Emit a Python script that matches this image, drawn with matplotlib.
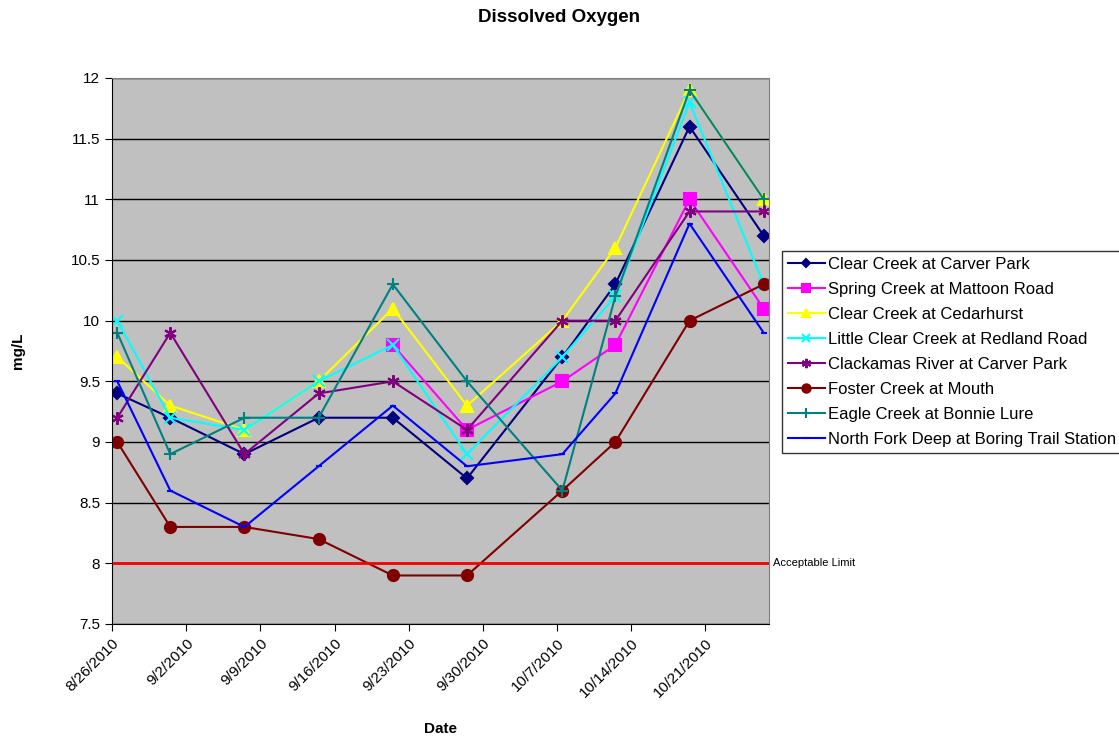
import numpy as np
import matplotlib
matplotlib.use("Agg")
import matplotlib.pyplot as plt
import matplotlib.dates as mdates
import datetime as dt

plt.rcParams['font.family'] = ['Liberation Sans', 'DejaVu Sans']

dates = ["2010-08-26", "2010-08-31", "2010-09-07", "2010-09-14", "2010-09-21",
         "2010-09-28", "2010-10-07", "2010-10-12", "2010-10-19", "2010-10-26"]

clear_carver = [9.4, 9.2, 8.9, 9.2, 9.2, 8.7, 9.7, 10.3, 11.6, 10.7]
spring_mattoon = [np.nan, np.nan, np.nan, np.nan, 9.8, 9.1, 9.5, 9.8, 11.0, 10.1]
clear_cedarhurst = [9.7, 9.3, 9.1, 9.5, 10.1, 9.3, 10.0, 10.6, 11.9, 11.0]
little_clear = [10.0, 9.2, 9.1, 9.5, 9.8, 8.9, 9.7, 10.2, 11.8, 10.3]
clackamas = [9.2, 9.9, 8.9, 9.4, 9.5, 9.1, 10.0, 10.0, 10.9, 10.9]
foster = [9.0, 8.3, 8.3, 8.2, 7.9, 7.9, 8.6, 9.0, 10.0, 10.3]
eagle = [9.9, 8.9, 9.2, 9.2, 10.3, 9.5, 8.6, 10.2, 11.9, 11.0]
north_fork = [9.5, 8.6, 8.3, 8.8, 9.3, 8.8, 8.9, 9.4, 10.8, 9.9]

limit = 8.0

# excel centres each point in its day
x = [dt.datetime.strptime(d, "%Y-%m-%d") + dt.timedelta(hours=12) for d in dates]

series = [
    ("Clear Creek at Carver Park", clear_carver, "#000080", "D", 6),
    ("Spring Creek at Mattoon Road", spring_mattoon, "#FF00FF", "s", 8),
    ("Clear Creek at Cedarhurst", clear_cedarhurst, "#FFFF00", "^", 8),
    ("Little Clear Creek at Redland Road", little_clear, "#00FFFF", "x", 8),
    ("Clackamas River at Carver Park", clackamas, "#800080", (6, 2, 0), 9),
    ("Foster Creek at Mouth", foster, "#800000", "o", 8),
    ("Eagle Creek at Bonnie Lure", eagle, "#008080", "+", 9),
    ("North Fork Deep at Boring Trail Station", north_fork, "#0000FF", "_", 5),
]

fig = plt.figure(figsize=(11.19, 7.38), dpi=100)
ax = fig.add_axes([112 / 1119, 1 - 624 / 738, (769 - 112) / 1119, (624 - 78) / 738])
ax.set_facecolor("#C0C0C0")

ax.yaxis.grid(True, color="black", linewidth=1)
ax.set_axisbelow(True)

for name, vals, col, mk, ms in series:
    ax.plot(x, vals, color=col, marker=mk, markersize=ms, linewidth=1.5,
            markeredgewidth=1.5, label=name)

ax.axhline(limit, color="#FF0000", linewidth=2)
ax.text(1.006, (limit - 7.5) / 4.5, "Acceptable Limit", transform=ax.transAxes,
        fontsize=8, va="center", ha="left")

ax.set_ylim(7.5, 12)
ax.set_yticks(np.arange(7.5, 12.01, 0.5))
ax.set_yticklabels(["7.5", "8", "8.5", "9", "9.5", "10", "10.5", "11", "11.5", "12"])
ax.set_xlim(dt.datetime(2010, 8, 26), dt.datetime(2010, 10, 27))
ax.set_xticks([dt.datetime(2010, 8, 26) + dt.timedelta(days=7 * i) for i in range(9)])
ax.xaxis.set_major_formatter(mdates.DateFormatter("%-m/%-d/%Y"))
ax.tick_params(axis="y", labelsize=11, direction="out", length=5)
ax.tick_params(axis="x", labelsize=11, direction="out", length=5)
plt.setp(ax.get_xticklabels(), rotation=45, ha="right", rotation_mode="anchor")

for s in ax.spines.values():
    s.set_color("#808080")
ax.spines["left"].set_color("black")
ax.spines["bottom"].set_color("black")

fig.text(0.5, 1 - 18 / 738, "Dissolved Oxygen", fontsize=13.5,
         fontweight="bold", ha="center", va="center")
ax.set_xlabel("Date", fontsize=11, fontweight="bold")
ax.xaxis.set_label_coords(0.5, -(729 - 624) / 546)
ax.xaxis.label.set_va("center")
ax.set_ylabel("mg/L", fontsize=11, fontweight="bold")
ax.yaxis.set_label_coords(-(112 - 18) / 657, 0.5)
ax.yaxis.label.set_va("center")

leg = fig.legend(loc="upper left", bbox_to_anchor=(782 / 1119, 1 - 251 / 738),
                 fontsize=12, frameon=True, fancybox=False, borderaxespad=0,
                 handlelength=2.2, labelspacing=0.6, borderpad=0.35,
                 handletextpad=0.2, markerscale=0.75)
leg.get_frame().set_edgecolor("black")
leg.get_frame().set_linewidth(1)

fig.savefig("out.png", dpi=100)
